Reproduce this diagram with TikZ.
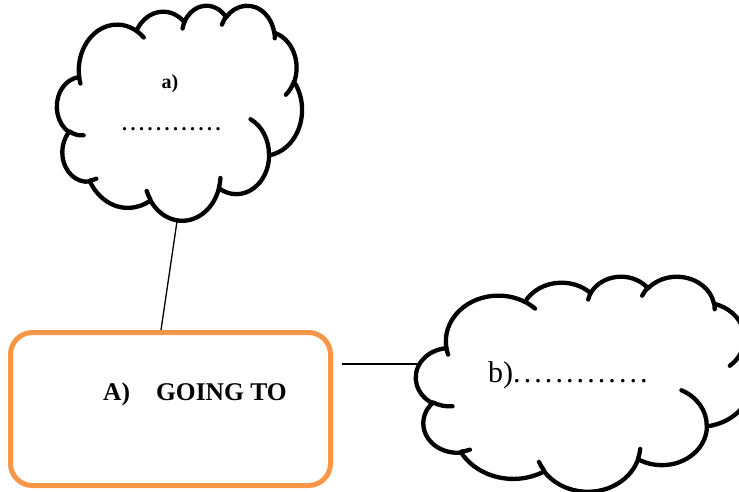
\documentclass[tikz,border=0pt]{standalone}
\usepackage{fontspec}
\setmainfont{Liberation Serif}
\definecolor{boxorange}{HTML}{F79646}
\tikzset{
  cloudline/.style={line width=4.3pt, line join=round, line cap=round},
  connector/.style={line width=1.3pt, black},
  bigbox/.style={draw=boxorange, line width=5pt, rounded corners=22pt, minimum width=320pt, minimum height=153pt, inner sep=0pt},
}
% arc of an ellipse given with visual (Office) angles
\newcommand\oarc[4]{arc[x radius=#1, y radius=#2, start angle={atan2((#1)*sin(#3),(#2)*cos(#3))}, delta angle={mod(atan2((#1)*sin((#3)+(#4)),(#2)*cos((#3)+(#4)))-atan2((#1)*sin(#3),(#2)*cos(#3))+720,360)}]}
\newcommand\cloudoutline{(39.00,143.70) \oarc{67.53}{91.90}{-190.4875}{123.7805}
  \oarc{53.33}{72.67}{-144.1024}{89.9452}
  \oarc{43.65}{59.45}{-145.8079}{99.7230}
  \oarc{48.57}{65.95}{-130.9861}{117.2417}
  \oarc{53.33}{72.73}{-78.7089}{109.0269}
  \oarc{67.75}{92.20}{-46.2673}{130.2690}
  \oarc{57.85}{78.67}{0.6250}{114.0333}
  \oarc{67.52}{92.15}{22.4516}{115.1726}
  \oarc{77.20}{105.43}{66.2426}{75.7110}
  \oarc{43.60}{59.18}{-274.9421}{146.7356}
  \oarc{43.45}{59.45}{-246.8285}{152.5189} -- cycle}
\newcommand\cloudhooks{(46.93,261.77) \oarc{43.45}{59.45}{86.7420}{26.4295}
  (69.28,348.99) \oarc{43.60}{59.18}{73.6105}{11.4475}
  (164.78,390.90) \oarc{67.52}{92.15}{137.6242}{14.0811}
  (288.27,347.51) \oarc{67.52}{92.15}{6.4533}{15.9984}
  (341.29,229.54) \oarc{57.85}{78.67}{-70.2924}{70.9174}
  (417.98,153.54) \oarc{53.33}{72.73}{30.3180}{27.7515}
  (383.24,54.26) \oarc{48.57}{65.95}{-13.7443}{14.8589}
  (290.78,39.52) \oarc{48.57}{65.95}{-149.1815}{18.1954}
  (221.41,47.20) \oarc{43.65}{59.45}{-163.4943}{17.6864}
  (140.00,51.92) \oarc{67.53}{91.90}{-66.7070}{12.3194}
  (41.27,157.89) \oarc{67.53}{91.90}{157.6544}{11.8582}}
\begin{document}
\begin{tikzpicture}[x=1pt, y=-1pt]
\useasboundingbox (0,0) rectangle (739,491);
% box
\node[bigbox] (A) at (170.5,409) {};
% connector anchors on the clouds
\coordinate (c1b) at (177.5,218);
\coordinate (c2l) at (421,364);
\draw[connector] (c1b) -- ([xshift=-9.5pt]A.north);
\draw[connector] ([xshift=9pt,yshift=45pt]A.east) -- (c2l);
% cloud 1
\begin{scope}[shift={(57pt,-5pt)}, x=0.56713pt, y=-0.49769pt]
  \fill[white] \cloudoutline;
  \draw[cloudline] \cloudoutline;
  \draw[cloudline] \cloudhooks;
\end{scope}
% cloud 2
\begin{scope}[shift={(416pt,-276pt)}, x=0.77778pt, y=-0.49769pt]
  \fill[white] \cloudoutline;
  \draw[cloudline] \cloudoutline;
  \draw[cloudline] \cloudhooks;
\end{scope}
% texts
\node[font=\bfseries\fontsize{25.5}{30}\selectfont, anchor=base west, inner sep=0pt] (Atxt) at (103,400) {A)\hspace{26pt}GOING TO};
\node[font=\bfseries\fontsize{20}{24}\selectfont, anchor=base, inner sep=0pt] (atxt) at (170,88.5) {a)};
\node[font=\bfseries\fontsize{20}{24}\selectfont\addfontfeature{LetterSpace=17.5}, anchor=base west, inner sep=0pt] (adots) at (122,130) {............};
\node[font=\fontsize{30}{36}\selectfont, anchor=base west, inner sep=0pt] (btxt) at (488,382) {b)\addfontfeature{LetterSpace=10.3}.............};
\end{tikzpicture}
\end{document}
